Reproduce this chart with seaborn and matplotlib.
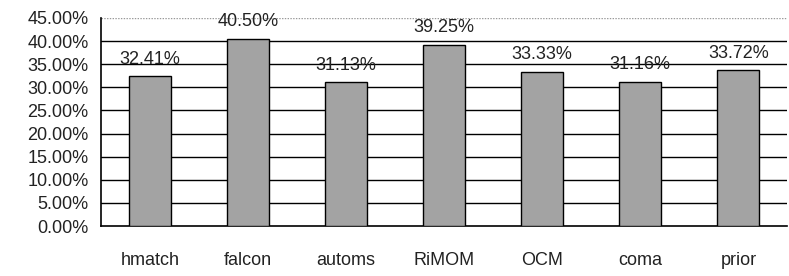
import numpy as np
import pandas as pd
import matplotlib
matplotlib.use("Agg")
import matplotlib.pyplot as plt
from matplotlib.ticker import FixedLocator, PercentFormatter
import seaborn as sns

# data
systems = ["hmatch", "falcon", "automs", "RiMOM", "OCM", "coma", "prior"]
scores = [32.41, 40.50, 31.13, 39.25, 33.33, 31.16, 33.72]

df = pd.DataFrame({"system": systems, "score": scores})

sns.set_style("white")
plt.rcParams["font.family"] = ["Liberation Sans", "DejaVu Sans"]

fig = plt.figure(figsize=(7.89, 2.76), dpi=100)
ax = fig.add_axes([0.128, 0.181, 0.870, 0.754])

sns.barplot(x="system", y="score", data=df, color="#a3a3a3", width=0.43,
            edgecolor="black", linewidth=1.0, saturation=1, ax=ax, zorder=3)

ax.set_ylim(0, 45)
ax.set_xlim(-0.5, 6.5)
ax.set_yticks(np.arange(0, 46, 5))
ax.yaxis.set_major_formatter(PercentFormatter(decimals=2))
ax.tick_params(axis="y", direction="out", length=6, width=1, color="black",
               labelsize=13, pad=3, labelcolor="#222222")
ax.set_xlabel("")
ax.set_ylabel("")

# gridlines (solid) and dotted top border
for v in np.arange(5, 41, 5):
    ax.axhline(v, color="black", linewidth=1.0, zorder=1)
ax.axhline(45, color="#999999", linewidth=1.0, linestyle=(0, (1, 1)), zorder=1)

for s in ["top", "right"]:
    ax.spines[s].set_visible(False)
for s in ["left", "bottom"]:
    ax.spines[s].set_color("black")
    ax.spines[s].set_linewidth(1.2)

# tick marks between categories, labels well below axis
ax.xaxis.set_minor_locator(FixedLocator(np.arange(-0.5, 6.6, 1)))
ax.tick_params(axis="x", which="minor", direction="out", length=7, width=1, color="black")
ax.tick_params(axis="x", which="major", length=0, pad=19, labelsize=13, labelcolor="#222222")

for i, v in enumerate(scores):
    ax.annotate(f"{v:.2f}%", (i, v), xytext=(0, 9), textcoords="offset points",
                ha="center", va="baseline", fontsize=13, color="#222222")

plt.savefig("out.png", dpi=100)
